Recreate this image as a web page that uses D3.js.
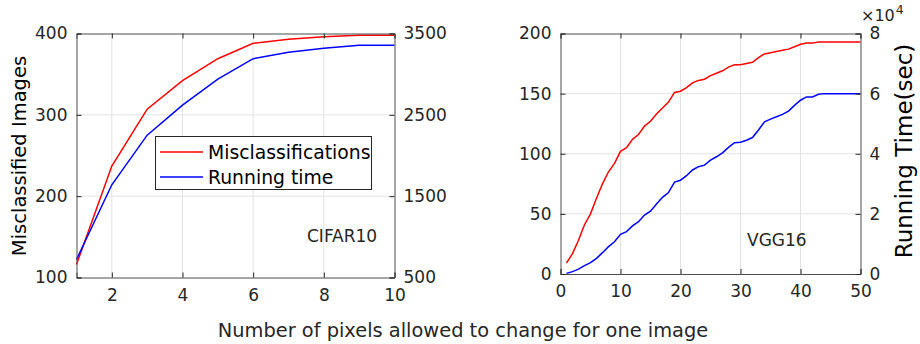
<!DOCTYPE html>
<html>
<head>
<meta charset="utf-8">
<script src="https://cdn.jsdelivr.net/npm/d3@7"></script>
<style>
  html, body { margin: 0; padding: 0; background: #fff; }
  svg { display: block; font-family: "DejaVu Sans", sans-serif; }
</style>
</head>
<body>
<svg id="chart" width="920" height="344"></svg>
<script>
// CIFAR10: pixels changed vs. misclassified images and running time
const cifarPixels = [1, 2, 3, 4, 5, 6, 7, 8, 9, 10];
const cifarMisclassified = [116, 237, 307, 342, 369, 388, 393, 396, 398, 398];
const cifarRunningTime = [720, 1640, 2250, 2620, 2940, 3190, 3270, 3320, 3355, 3355];

// VGG16: pixels changed vs. misclassified images and running time (sec)
const vggPixels = d3.range(1, 51);
const vggMisclassified = [9, 17, 28, 41, 50, 63, 75, 85, 92, 102,
  105, 112, 116, 123, 127, 133, 138, 143, 151, 152,
  155, 159, 161, 162, 165, 167, 169, 172, 174, 174,
  175, 176, 180, 183, 184, 185, 186, 187, 189, 191,
  192, 192, 193, 193, 193, 193, 193, 193, 193, 193];
const vggRunningTime = [200, 800, 1600, 2800, 3800, 5200, 7100, 9100, 10700, 13200,
  14100, 16000, 17400, 19600, 20900, 23300, 25500, 27100, 30600, 31200,
  32700, 34600, 35700, 36200, 37900, 39000, 40300, 42100, 43700, 43800,
  44500, 45400, 47900, 50600, 51500, 52300, 53100, 54200, 56100, 57800,
  58900, 58900, 59800, 60000, 60000, 60000, 60000, 60000, 60000, 60000];

// Tick values
const cifarXTicks = [2, 4, 6, 8, 10];
const cifarLeftTicks = [100, 200, 300, 400];
const cifarRightTicks = [500, 1500, 2500, 3500];
const vggXTicks = [0, 10, 20, 30, 40, 50];
const vggLeftTicks = [0, 50, 100, 150, 200];
const vggRightTicks = [0, 20000, 40000, 60000, 80000];

const seriesNames = ["Misclassifications", "Running time"];
const seriesColors = ["#ff0000", "#0000ff"];

const svg = d3.select("#chart");
const ink = "#262626";
const tickFont = 17;

function panel(cfg) {
  const g = svg.append("g");
  const x = d3.scaleLinear().domain(cfg.xDomain).range([cfg.left, cfg.right]);
  const yL = d3.scaleLinear().domain(cfg.yLDomain).range([cfg.bottom, cfg.top]);
  const yR = d3.scaleLinear().domain(cfg.yRDomain).range([cfg.bottom, cfg.top]);

  // grid
  const grid = g.append("g").attr("stroke", "#e3e3e3").attr("stroke-width", 1);
  grid.selectAll(".gx").data(cfg.xTicks.filter(v => v > cfg.xDomain[0] && v < cfg.xDomain[1]))
    .join("line").attr("x1", d => x(d)).attr("x2", d => x(d))
    .attr("y1", cfg.top).attr("y2", cfg.bottom);
  grid.selectAll(".gy").data(cfg.yLTicks.filter(v => v > cfg.yLDomain[0] && v < cfg.yLDomain[1]))
    .join("line").attr("y1", d => yL(d)).attr("y2", d => yL(d))
    .attr("x1", cfg.left).attr("x2", cfg.right);

  // data lines
  const lineL = d3.line().x((d, i) => x(cfg.xs[i])).y(d => yL(d));
  const lineR = d3.line().x((d, i) => x(cfg.xs[i])).y(d => yR(d));
  g.append("path").attr("d", lineL(cfg.left1)).attr("fill", "none")
    .attr("stroke", seriesColors[0]).attr("stroke-width", 1.5);
  g.append("path").attr("d", lineR(cfg.right1)).attr("fill", "none")
    .attr("stroke", seriesColors[1]).attr("stroke-width", 1.5);

  // axes (inward ticks)
  const tl = 5;
  const axB = d3.axisBottom(x).tickValues(cfg.xTicks).tickSize(-tl).tickPadding(tl + 6);
  const axT = d3.axisTop(x).tickValues(cfg.xTicks).tickSize(-tl).tickFormat("");
  const axL = d3.axisLeft(yL).tickValues(cfg.yLTicks).tickSize(-tl).tickPadding(tl + 4);
  const axR = d3.axisRight(yR).tickValues(cfg.yRTicks).tickSize(-tl).tickPadding(tl + 4)
    .tickFormat(cfg.yRFormat || (d => d));

  function style(sel) {
    sel.selectAll("path").attr("stroke", ink).attr("stroke-width", 1);
    sel.selectAll("line").attr("stroke", ink).attr("stroke-width", 1);
    sel.selectAll("text").attr("fill", ink).attr("font-size", tickFont)
      .attr("font-family", "DejaVu Sans");
    sel.attr("font-family", null).attr("font-size", null);
  }
  g.append("g").attr("transform", `translate(0,${cfg.bottom})`).call(axB).call(style);
  g.append("g").attr("transform", `translate(0,${cfg.top})`).call(axT).call(style);
  g.append("g").attr("transform", `translate(${cfg.left},0)`).call(axL).call(style);
  g.append("g").attr("transform", `translate(${cfg.right},0)`).call(axR).call(style);
  g.selectAll(".domain").attr("stroke", "#4d4d4d");

  // annotation
  g.append("text").attr("x", cfg.noteX).attr("y", cfg.noteY)
    .attr("font-size", tickFont).attr("fill", ink).text(cfg.note);
  return { g, x, yL, yR };
}

const p1 = panel({
  left: 76.5, right: 394.5, top: 33.5, bottom: 277.5,
  xDomain: [1, 10], yLDomain: [100, 400], yRDomain: [500, 3500],
  xTicks: cifarXTicks, yLTicks: cifarLeftTicks, yRTicks: cifarRightTicks,
  xs: cifarPixels, left1: cifarMisclassified, right1: cifarRunningTime,
  note: "CIFAR10", noteX: 307, noteY: 242
});

const p2 = panel({
  left: 560.5, right: 860.5, top: 33.5, bottom: 274,
  xDomain: [0, 50], yLDomain: [0, 200], yRDomain: [0, 80000],
  xTicks: vggXTicks, yLTicks: vggLeftTicks, yRTicks: vggRightTicks,
  yRFormat: d => d / 10000,
  xs: vggPixels, left1: vggMisclassified, right1: vggRunningTime,
  note: "VGG16", noteX: 747, noteY: 246
});

// exponent marker for the VGG16 running-time axis
const expo = svg.append("text").attr("x", 861).attr("y", 21)
  .attr("font-size", 16).attr("fill", ink);
expo.append("tspan").text("\u00d710");
expo.append("tspan").attr("dy", -7.5).attr("dx", 1).attr("font-size", 12.5).text("4");

// legend (CIFAR10 panel)
const leg = svg.append("g");
leg.append("rect").attr("x", 155.5).attr("y", 136.5).attr("width", 216).attr("height", 53)
  .attr("fill", "#fff").attr("stroke", ink).attr("stroke-width", 1);
seriesNames.forEach((name, i) => {
  const cy = 152 + i * 25;
  leg.append("line").attr("x1", 160).attr("x2", 203).attr("y1", cy).attr("y2", cy)
    .attr("stroke", seriesColors[i]).attr("stroke-width", 1.5);
  leg.append("text").attr("x", 208).attr("y", cy + 6.5).attr("font-size", 18.8)
    .attr("fill", "#000").text(name);
});

// axis titles
svg.append("text").attr("transform", "translate(26,156) rotate(-90)")
  .attr("text-anchor", "middle").attr("font-size", 19.5).attr("fill", "#000")
  .text("Misclassified Images");
svg.append("text").attr("transform", "translate(912,151) rotate(-90)")
  .attr("text-anchor", "middle").attr("font-size", 23).attr("fill", "#000")
  .text("Running Time(sec)");
svg.append("text").attr("x", 463).attr("y", 336.5)
  .attr("text-anchor", "middle").attr("font-size", 19.4).attr("fill", ink)
  .text("Number of pixels allowed to change for one image");
</script>
</body>
</html>
